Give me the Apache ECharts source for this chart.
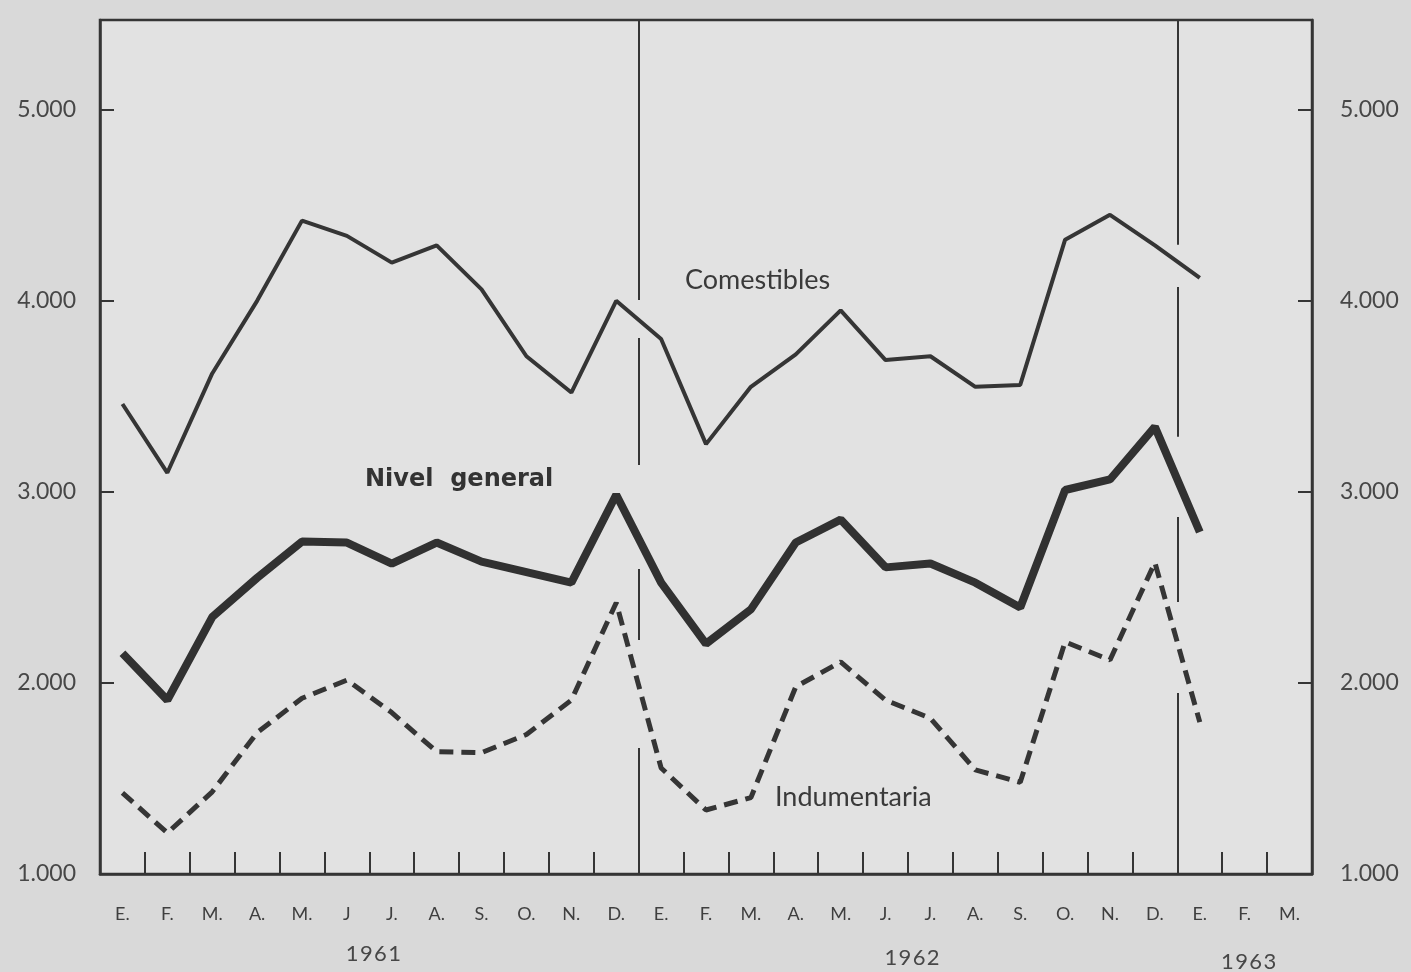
<!DOCTYPE html>
<html>
<head>
<meta charset="utf-8">
<script src="https://cdn.jsdelivr.net/npm/echarts@6/dist/echarts.min.js"></script>
<style>
html,body{margin:0;padding:0;background:#d9d9d9;}
#c{width:1411px;height:972px;}
</style>
</head>
<body>
<div id="c"></div>
<script>
// ---- data ----
const months = ['E.','F.','M.','A.','M.','J','J.','A.','S.','O.','N.','D.',
                'E.','F.','M.','A.','M.','J.','J.','A.','S.','O.','N.','D.',
                'E.','F.','M.'];
const years = ['1961','1962','1963'];
const yearSpans = [[0,12],[12,24],[24,27]];
const comestibles = [3460,3100,3620,4000,4420,4340,4200,4290,4060,3710,3520,4000,
                     3800,3250,3550,3720,3950,3690,3710,3550,3560,4320,4450,4290,
                     4120,null,null];
const nivelGeneral = [2155,1910,2345,2550,2740,2735,2625,2735,2635,2580,2525,2985,
                      2525,2205,2385,2735,2855,2605,2625,2525,2395,3010,3065,3340,
                      2790,null,null];
const indumentaria = [1425,1215,1430,1740,1920,2015,1845,1640,1635,1730,1910,2420,
                      1555,1335,1400,1980,2110,1910,1815,1545,1480,2215,2120,2630,
                      1795,null,null];
const yTicks = [1000,2000,3000,4000,5000];
// year divider lines (boundary index, visible value segments)
const divider1961 = {at:12, segments:[[5470,4005],[3806,3141],[2597,2225],[1660,1000]]};
const divider1962 = {at:24, segments:[[5470,4293],[4073,3288],[2869,2424],[1948,1000]]};

// ---- chart ----
const INK = '#353535';
const TXT = '#474747';
const chart = echarts.init(document.getElementById('c'));
const fmt = v => (yTicks.indexOf(v) >= 0 ? (v/1000).toFixed(0) + '.000' : '');

function dividerLines(d){
  return d.segments.map(s => [{coord:[d.at, s[0]]},{coord:[d.at, s[1]]}]);
}

const yCommon = {
  type:'value', min:1000, max:5470, interval:1000,
  axisLine:{show:true, lineStyle:{color:INK, width:2.5}},
  axisTick:{show:true, inside:true, length:14, lineStyle:{color:INK, width:2}},
  splitLine:{show:false},
  axisLabel:{formatter:fmt, color:TXT, fontSize:23, fontFamily:'Lato', margin:24, showMaxLabel:false}
};

chart.setOption({
  animation:false,
  backgroundColor:'#d9d9d9',
  grid:{left:100, right:99, top:20, bottom:98, show:true, backgroundColor:'#e2e2e2',
        borderColor:INK, borderWidth:2.5},
  xAxis:[{
    type:'category', data:months, boundaryGap:true,
    axisLine:{show:true, lineStyle:{color:INK, width:2.5}},
    axisTick:{show:true, inside:true, length:22, interval:0, lineStyle:{color:INK, width:2}},
    axisLabel:{interval:0, color:'#3f3f3f', fontSize:18, fontFamily:'Lato', margin:31},
    splitLine:{show:false}
  },{
    type:'value', min:0, max:27, show:false
  }],
  yAxis:[Object.assign({position:'left'}, yCommon),
         Object.assign({position:'right'}, yCommon, {axisLabel:Object.assign({}, yCommon.axisLabel, {margin:28})})],
  series:[
    {name:'Comestibles', type:'line', data:comestibles, showSymbol:false, symbol:'none',
     lineStyle:{color:INK, width:4}, z:5},
    {name:'Nivel general', type:'line', data:nivelGeneral, showSymbol:false, symbol:'none',
     lineStyle:{color:'#313131', width:8}, z:5},
    {name:'Indumentaria', type:'line', data:indumentaria, showSymbol:false, symbol:'none',
     lineStyle:{color:INK, width:5, type:[14,8]}, z:5},
    {name:'dividers', type:'line', xAxisIndex:1, data:[],
     markLine:{silent:true, symbol:'none', label:{show:false},
       lineStyle:{color:INK, width:2, type:'solid'},
       data: dividerLines(divider1961).concat(dividerLines(divider1962))}}
  ]
});

// annotations and year labels
const spaced = (s, sep) => s.split('').join(sep);
const yearTexts = years.map((y,i) => {
  const mid = (yearSpans[i][0] + yearSpans[i][1]) / 2;
  const px = chart.convertToPixel({xAxisIndex:1}, mid);
  return {type:'text', x:px + 4, y:943 + i*4,
          style:{text:spaced(y,'\u200A'), fill:TXT, font:'22px Lato', textAlign:'center', textVerticalAlign:'top'}};
});
chart.setOption({graphic:[
  {type:'text', x:685, y:280, style:{text:'Comestibles', fill:'#3a3a3a', font:'27px Lato', textVerticalAlign:'middle'}},
  {type:'text', x:365, y:480, style:{text:'Nivel  general', fill:'#333', font:'bold 24px "DejaVu Sans"', textVerticalAlign:'middle'}},
  {type:'text', x:775, y:797, style:{text:'Indumentaria', fill:'#3a3a3a', font:'27px Lato', textVerticalAlign:'middle'}}
].concat(yearTexts)});
</script>
</body>
</html>
